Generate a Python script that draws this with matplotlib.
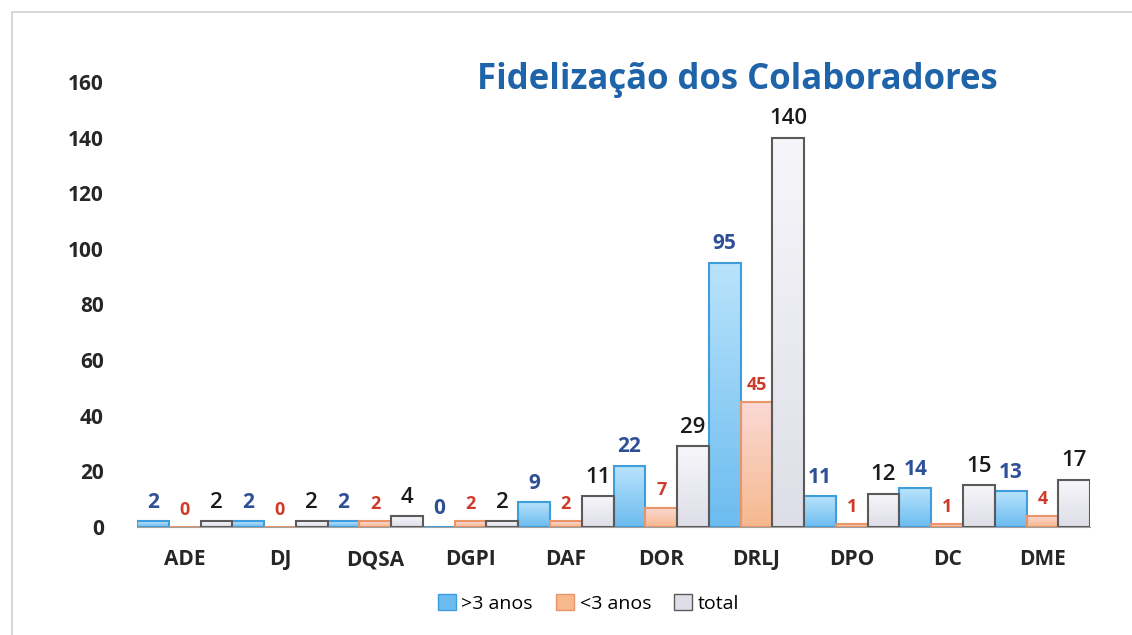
import numpy as np
import matplotlib.pyplot as plt
from matplotlib.patches import Rectangle
from matplotlib.colors import LinearSegmentedColormap

plt.rcParams['font.family'] = ['Open Sans', 'DejaVu Sans']

categories = ['ADE', 'DJ', 'DQSA', 'DGPI', 'DAF', 'DOR', 'DRLJ', 'DPO', 'DC', 'DME']
mais_3 = [2, 2, 2, 0, 9, 22, 95, 11, 14, 13]
menos_3 = [0, 0, 2, 2, 2, 7, 45, 1, 1, 4]
total = [2, 2, 4, 2, 11, 29, 140, 12, 15, 17]

series = [
    ('>3 anos', mais_3, ['#b9e3fb', '#6cbcf0'], '#3f9ddc', '#2f4f96', 'bold', 15),
    ('<3 anos', menos_3, ['#fbd9d6', '#f6b98e'], '#e8956a', '#cf3b2a', 'bold', 13),
    ('total', total, ['#f6f6fa', '#dedee8'], '#5a5a5a', '#1a1a1a', 'semibold', 16),
]

fig = plt.figure(figsize=(11.32, 6.35), dpi=100)
ax = fig.add_axes([0.121, 0.170, 0.842, 0.701])

w = 1 / 3
x = np.arange(len(categories))
handles = []
for k, (name, vals, grad, edge, tcol, tw, tsize) in enumerate(series):
    cmap = LinearSegmentedColormap.from_list(name, grad)
    g = np.linspace(0, 1, 64).reshape(-1, 1)
    for i, v in enumerate(vals):
        x0 = i - 0.5 + k * w
        if v > 0:
            ax.imshow(g, cmap=cmap, extent=[x0, x0 + w, 0, v], aspect='auto',
                      origin='upper', zorder=2)
        ax.add_patch(Rectangle((x0, 0), w, v, fill=False, edgecolor=edge,
                               linewidth=1.5, zorder=3))
        ax.text(x0 + w / 2, v + 3, str(v), ha='center', va='bottom',
                color=tcol, fontweight=tw, fontsize=tsize, zorder=4)
    handles.append(Rectangle((0, 0), 1, 1, facecolor=grad[1], edgecolor=edge, linewidth=1))

ax.set_xlim(-0.5, len(categories) - 0.5)
ax.set_ylim(0, 160)
ax.set_xticks(x)
ax.set_xticklabels(categories, fontsize=15, fontweight='bold', color='#262626')
ax.set_yticks(range(0, 161, 20))
ax.tick_params(axis='y', labelsize=15, length=0, pad=24, labelcolor='#262626')
ax.tick_params(axis='x', length=0, pad=16)
for lab in ax.get_yticklabels():
    lab.set_fontweight('bold')
for s in ['top', 'right', 'left']:
    ax.spines[s].set_visible(False)
ax.spines['bottom'].set_color('#a0a0a0')
ax.spines['bottom'].set_zorder(5)

fig.text(0.651, 0.874, 'Fidelização dos Colaboradores', ha='center', va='center',
         fontsize=25, fontweight='bold', color='#1f63a8')

fig.legend(handles, [s[0] for s in series], loc='center', bbox_to_anchor=(0.52, 0.05),
           ncol=3, frameon=False, fontsize=14, handlelength=0.9, handleheight=0.9,
           handletextpad=0.3, columnspacing=1.2)

fig.patches.append(Rectangle((0.011, -0.1), 1.1, 1.081, transform=fig.transFigure,
                             fill=False, edgecolor='#d0d0d0', linewidth=1.2))

fig.savefig('out.png', dpi=100)
